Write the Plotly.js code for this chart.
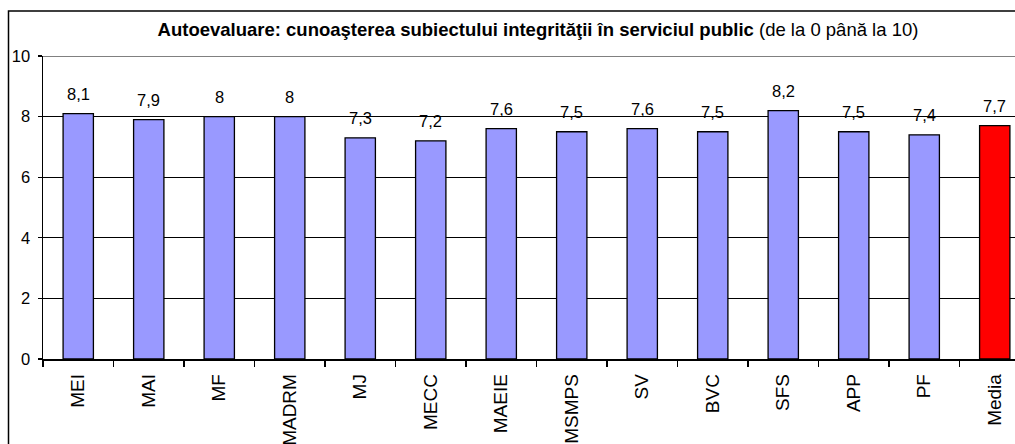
<!DOCTYPE html>
<html>
<head>
<meta charset="utf-8">
<script src="https://cdn.plot.ly/plotly-3.0.1.min.js"></script>
<style>
html,body{margin:0;padding:0;overflow:hidden;background:#fff;width:1015px;height:444px;}
#chart{position:absolute;left:0;top:0;}
</style>
</head>
<body>
<div id="chart"></div>
<script>
const categories = ["MEI","MAI","MF","MADRM","MJ","MECC","MAEIE","MSMPS","SV","BVC","SFS","APP","PF","Media"];
const values = [8.1,7.9,8,8,7.3,7.2,7.6,7.5,7.6,7.5,8.2,7.5,7.4,7.7];
const barColors = ["#9999FF","#9999FF","#9999FF","#9999FF","#9999FF","#9999FF","#9999FF","#9999FF","#9999FF","#9999FF","#9999FF","#9999FF","#9999FF","#FF0000"];
const yTicks = [0,2,4,6,8,10];

const W = 1040, H = 470;
const font = "Liberation Sans, Arial, sans-serif";

const trace = {
  type: "bar",
  x: categories,
  y: values,
  marker: {color: barColors, line: {color: "#000", width: 1.3}},
  width: 0.43,
  hoverinfo: "none"
};

const annotations = categories.map((c, i) => ({
  x: c, y: values[i], xref: "x", yref: "y",
  text: String(values[i]).replace(".", ","),
  showarrow: false, yanchor: "middle", yshift: 20,
  font: {family: font, size: 16.5, color: "#000"}
}));

const layout = {
  width: W, height: H,
  margin: {l: 43, r: W - 1030, t: 56, b: H - 359},
  paper_bgcolor: "#fff", plot_bgcolor: "#fff",
  showlegend: false,
  title: {
    text: "<b>Autoevaluare: cunoaşterea subiectului integrităţii în serviciul public</b> (de la 0 până la 10)",
    font: {family: font, size: 18.5, color: "#000"},
    xref: "container", yref: "container",
    x: 538 / W, xanchor: "center",
    y: 1 - 30 / H, yanchor: "middle"
  },
  xaxis: {
    type: "category",
    tickson: "boundaries",
    ticks: "outside", ticklen: 6, tickcolor: "#000", tickwidth: 1.3,
    tickangle: -90,
    ticklabelstandoff: 6,
    tickfont: {family: font, size: 19, color: "#000"},
    showline: true, linecolor: "#000", linewidth: 1.5,
    showgrid: false, zeroline: false,
    fixedrange: true
  },
  yaxis: {
    range: [0, 10],
    tickvals: yTicks,
    ticktext: yTicks.map(String),
    ticks: "outside", ticklen: 4, tickcolor: "#000", tickwidth: 1.3,
    tickfont: {family: font, size: 16.5, color: "#000"},
    ticklabelstandoff: 4,
    showline: true, linecolor: "#000", linewidth: 1.5,
    showgrid: true, gridcolor: "#000", gridwidth: 1.2,
    zeroline: false,
    fixedrange: true
  },
  shapes: [
    {type: "line", xref: "paper", yref: "y", x0: 0, x1: 1, y0: 10, y1: 10,
     line: {color: "#808080", width: 2}, layer: "above"},
    {type: "rect", xref: "paper", yref: "paper",
     x0: (8.5 - 43) / 987, x1: 1.1, y0: -1, y1: 1 + (56 - 11) / 303,
     line: {color: "#000", width: 1.5}, fillcolor: "rgba(0,0,0,0)", layer: "below"}
  ],
  annotations: annotations,
  bargap: 0.57
};

Plotly.newPlot("chart", [trace], layout, {displayModeBar: false, staticPlot: true});
</script>
</body>
</html>
